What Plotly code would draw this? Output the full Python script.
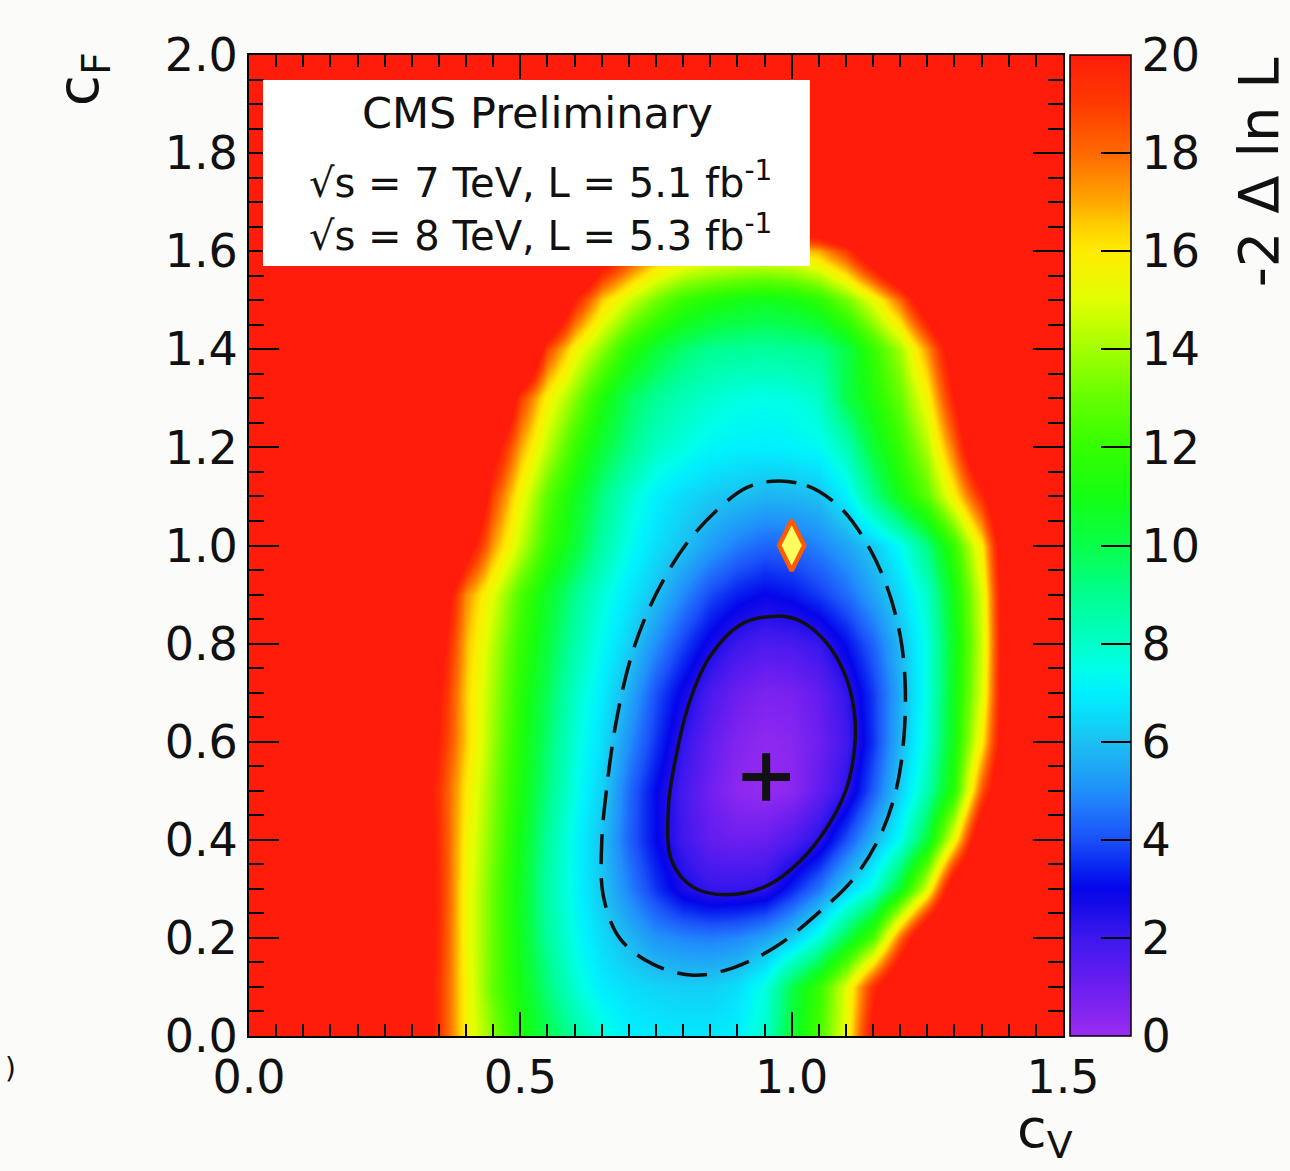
import plotly.graph_objects as go

# ---------------- data ----------------
# grid of cV (x) and cF (y) points at which -2 Delta lnL was read off the picture
cv_grid = [0.00, 0.05, 0.10, 0.15, 0.20, 0.25, 0.30, 0.35, 0.40, 0.45, 0.50,
           0.55, 0.60, 0.65, 0.70, 0.75, 0.80, 0.85, 0.90, 0.95, 1.00,
           1.05, 1.10, 1.15, 1.20, 1.25, 1.30, 1.35, 1.40, 1.45, 1.50]
cf_grid = [0.0, 0.1, 0.2, 0.3, 0.4, 0.5, 0.6, 0.7, 0.8, 0.9, 1.0,
           1.1, 1.2, 1.3, 1.4, 1.5, 1.6, 1.7, 1.8, 1.9, 2.0]

# -2 Delta lnL, one row per cF value (values above 20 are shown saturated red)
nll_cf_00 = [40, 37, 34, 31, 28, 25, 22.5, 19.2, 15.7, 13.5, 11.4, 10.0, 8.75, 7.7, 7.0, 6.9, 6.8, 6.8, 7.0, 8.0, 10.4, 12.4, 15.3, 20.7, 23, 25.5, 28, 30, 32, 34, 36]
nll_cf_01 = [40, 37, 34, 31, 28, 25, 22.5, 19.2, 15.6, 12.9, 11.0, 9.3, 7.8, 6.9, 6.6, 6.4, 6.3, 6.3, 6.6, 7.6, 10.0, 12.0, 15.0, 19.4, 23, 25.5, 28, 30, 32, 34, 36]
nll_cf_02 = [40, 37, 34, 31, 28, 25, 22.5, 19.4, 15.5, 13.0, 10.8, 8.8, 7.4, 6.5, 5.8, 5.1, 4.85, 4.75, 4.9, 5.4, 6.2, 7.7, 10.0, 12.5, 18.0, 23, 25.5, 28, 30, 32, 34]
nll_cf_03 = [40, 37, 34, 31, 28, 25, 22.5, 19.5, 15.5, 13.0, 10.7, 8.6, 7.2, 6.1, 4.8, 3.6, 2.6, 2.15, 2.15, 2.3, 3.4, 4.6, 6.3, 7.7, 10.6, 15.0, 22, 25, 27.5, 30, 32]
nll_cf_04 = [40, 37, 34, 31, 28, 25, 22.5, 19.4, 15.7, 13.3, 10.9, 8.8, 7.2, 6.0, 4.3, 3.0, 1.95, 1.2, 1.0, 1.1, 1.6, 2.4, 4.0, 5.7, 7.4, 10.3, 15.5, 22.5, 25, 27.5, 30]
nll_cf_05 = [40, 37, 34, 31, 28, 25, 22.5, 19.2, 16.0, 13.5, 11.2, 9.2, 7.5, 6.3, 4.4, 3.0, 1.8, 0.9, 0.3, 0.1, 0.35, 1.2, 2.3, 4.2, 6.3, 8.4, 11.7, 18.5, 23.5, 26, 28.5]
nll_cf_06 = [40, 37, 34, 31, 28, 25, 22.5, 19.8, 16.5, 13.8, 11.4, 9.5, 7.7, 6.6, 5.0, 3.6, 2.2, 1.2, 0.55, 0.25, 0.4, 1.0, 1.9, 3.6, 5.8, 7.8, 11.0, 16.0, 22.5, 25.5, 28]
nll_cf_07 = [40, 37, 34, 31, 28, 25, 22.5, 20.2, 16.5, 14.0, 11.6, 9.8, 8.0, 6.9, 5.6, 4.0, 2.8, 1.7, 1.0, 0.65, 0.75, 1.2, 2.2, 3.7, 5.6, 7.6, 10.8, 15.0, 22.5, 25, 27.5]
nll_cf_08 = [40, 37, 34, 31, 28, 25, 22.5, 21.0, 16.8, 14.3, 12.0, 10.2, 8.5, 7.3, 6.3, 5.0, 3.8, 2.75, 2.0, 1.65, 1.75, 2.1, 3.1, 4.3, 5.9, 7.6, 10.7, 14.7, 22.5, 25, 27.5]
nll_cf_09 = [42, 39.5, 37, 34.5, 32, 29.5, 26.5, 22.0, 17.4, 15.0, 12.5, 10.6, 9.0, 7.7, 6.8, 6.0, 4.9, 3.9, 3.3, 2.95, 3.2, 3.7, 4.4, 5.4, 6.5, 8.0, 11.0, 15.0, 22.5, 25, 27.5]
nll_cf_10 = [44, 42, 39.5, 37, 34.5, 32, 29, 26, 21.2, 17.2, 14.5, 12.0, 10.3, 8.6, 7.4, 6.6, 6.05, 5.3, 4.7, 4.3, 4.4, 4.8, 5.4, 6.2, 7.3, 9.2, 12.0, 16.0, 23, 26, 28.5]
nll_cf_11 = [46, 44, 41.5, 39, 36.5, 34, 31, 28, 24.5, 18.8, 15.5, 12.8, 10.8, 9.2, 7.9, 7.0, 6.5, 6.2, 6.0, 5.75, 5.8, 6.0, 7.0, 9.0, 11.0, 12.8, 15.8, 19.6, 24, 27, 29.5]
nll_cf_12 = [48, 46, 44, 41.5, 39, 36.5, 34, 31, 27.5, 21.0, 17.1, 14.4, 12.0, 10.3, 9.1, 8.1, 7.6, 7.2, 7.05, 7.0, 7.1, 7.3, 8.3, 10.4, 12.0, 14.2, 18.0, 23.5, 26.5, 29, 31.5]
nll_cf_13 = [50, 48, 46, 44, 41.5, 39, 36, 32.5, 29, 25.5, 19.0, 15.7, 13.5, 11.3, 9.7, 8.9, 8.3, 7.9, 7.6, 7.5, 7.6, 8.0, 10.0, 11.4, 13.0, 15.6, 20.0, 25, 28, 31, 33.5]
nll_cf_14 = [52, 50, 48, 46, 44, 41.5, 39, 36, 33, 29.5, 26, 18.8, 15.6, 13.6, 11.6, 10.3, 9.5, 9.0, 8.9, 8.8, 8.9, 9.0, 10.0, 12.0, 14.0, 17.3, 21.5, 26, 29.5, 32, 35]
nll_cf_15 = [54, 52, 50, 48, 46, 44, 41.5, 39, 36, 33, 29.5, 25.5, 19.8, 16.5, 14.7, 13.2, 12.0, 11.4, 11.0, 10.8, 11.0, 11.7, 13.2, 15.2, 18.0, 22, 26, 29.5, 32.5, 35, 37.5]
nll_cf_16 = [56, 54, 52, 50, 48, 46, 44, 42, 39.5, 37, 34, 30.5, 26.5, 22.0, 19.5, 17.5, 16.6, 16.2, 16.0, 15.9, 16.2, 17.0, 19.0, 22.5, 26, 29.5, 33, 36, 38.5, 41, 43.5]
nll_cf_17 = [58, 56, 54, 52, 50, 48, 46, 44, 42, 40, 38, 36, 34, 32, 30, 28.5, 27.5, 27, 26.8, 26.7, 27, 28, 30, 32.5, 35, 37.5, 40, 42.5, 45, 47.5, 50]
nll_cf_18 = [65, 63, 61, 59, 57, 55, 53, 51, 49, 47, 45, 43, 41, 39, 37, 35.5, 34.5, 34, 33.8, 33.7, 34, 35, 37, 39.5, 42, 44.5, 47, 49.5, 52, 54.5, 57]
nll_cf_19 = [72, 70, 68, 66, 64, 62, 60, 58, 56, 54, 52, 50, 48, 46, 44, 42.5, 41.5, 41, 40.8, 40.7, 41, 42, 44, 46.5, 49, 51.5, 54, 56.5, 59, 61.5, 64]
nll_cf_20 = [79, 77, 75, 73, 71, 69, 67, 65, 63, 61, 59, 57, 55, 53, 51, 49.5, 48.5, 48, 47.8, 47.7, 48, 49, 51, 53.5, 56, 58.5, 61, 63.5, 66, 68.5, 71]

# 68% CL contour (solid)
cl68_cv = [0.972, 1.016, 1.064, 1.101, 1.117, 1.113, 1.098, 1.064, 1.016, 0.954, 0.880,
           0.819, 0.779, 0.773, 0.788, 0.813, 0.849, 0.905, 0.972]
cl68_cf = [0.856, 0.846, 0.802, 0.729, 0.642, 0.561, 0.495, 0.423, 0.357, 0.306, 0.288,
           0.303, 0.357, 0.467, 0.576, 0.685, 0.773, 0.838, 0.856]
# 95% CL contour (dashed)
cl95_cv = [0.966, 1.028, 1.089, 1.138, 1.175, 1.200, 1.209, 1.207, 1.193, 1.163, 1.114,
           1.046, 0.972, 0.892, 0.819, 0.745, 0.684, 0.653, 0.650, 0.659, 0.678,
           0.708, 0.751, 0.807, 0.868, 0.917, 0.966]
cl95_cf = [1.131, 1.122, 1.078, 1.005, 0.918, 0.816, 0.722, 0.612, 0.504, 0.408, 0.321,
           0.248, 0.183, 0.139, 0.124, 0.146, 0.198, 0.285, 0.394, 0.504, 0.649,
           0.787, 0.903, 1.005, 1.078, 1.118, 1.131]

best_fit_cv = [0.953]
best_fit_cf = [0.528]
sm_cv = [1.0]
sm_cf = [1.0]

x_tick_vals = [0.0, 0.5, 1.0, 1.5]
x_tick_text = ["0.0", "0.5", "1.0", "1.5"]
y_tick_vals = [0.0, 0.2, 0.4, 0.6, 0.8, 1.0, 1.2, 1.4, 1.6, 1.8, 2.0]
y_tick_text = ["0.0", "0.2", "0.4", "0.6", "0.8", "1.0", "1.2", "1.4", "1.6", "1.8", "2.0"]
z_tick_vals = [0, 2, 4, 6, 8, 10, 12, 14, 16, 18, 20]
z_tick_text = ["0", "2", "4", "6", "8", "10", "12", "14", "16", "18", "20"]

info_lines = ["CMS Preliminary",
              "√s = 7 TeV, L = 5.1 fb<sup>-1</sup>",
              "√s = 8 TeV, L = 5.3 fb<sup>-1</sup>"]

z_rows = [nll_cf_00, nll_cf_01, nll_cf_02, nll_cf_03, nll_cf_04, nll_cf_05, nll_cf_06,
          nll_cf_07, nll_cf_08, nll_cf_09, nll_cf_10, nll_cf_11, nll_cf_12, nll_cf_13,
          nll_cf_14, nll_cf_15, nll_cf_16, nll_cf_17, nll_cf_18, nll_cf_19, nll_cf_20]

# ---------------- style ----------------
FONT = "DejaVu Sans"
palette = [
    [0.000, "#9a2cf0"], [0.050, "#6c1ef0"], [0.100, "#3c18ee"], [0.130, "#1a0ce8"],
    [0.150, "#0505ea"], [0.175, "#0a2af2"], [0.200, "#1a50f8"], [0.225, "#1f6ffb"],
    [0.250, "#2090fb"], [0.275, "#1ea8f5"], [0.300, "#1cc0f2"], [0.325, "#0cdaf8"],
    [0.350, "#00f0ff"], [0.375, "#00ffe8"], [0.400, "#00ffc8"], [0.450, "#00ff90"],
    [0.500, "#08ff48"], [0.550, "#14ff14"], [0.600, "#34ff00"], [0.650, "#64ff00"],
    [0.700, "#a4ff00"], [0.750, "#e2ff00"], [0.800, "#ffec00"], [0.825, "#ffd000"],
    [0.850, "#ffa800"], [0.875, "#ff8800"], [0.900, "#ff6800"], [0.950, "#ff3a00"],
    [1.000, "#ff1c0a"],
]

fig = go.Figure()
fig.add_trace(go.Heatmap(
    x=cv_grid, y=cf_grid, z=z_rows, zmin=0, zmax=20, zsmooth="best",
    colorscale=palette, hoverinfo="skip",
    colorbar=dict(
        x=1.0086, xanchor="left", xpad=0, ypad=0, y=0.5, yanchor="middle",
        len=1, lenmode="fraction", thickness=61, thicknessmode="pixels",
        outlinecolor="black", outlinewidth=1.5,
        ticks="inside", ticklen=30, tickwidth=2, tickcolor="black",
        tickvals=z_tick_vals, ticktext=z_tick_text,
        tickfont=dict(family=FONT, size=46, color="#111111"),
    ),
))
fig.add_trace(go.Scatter(
    x=cl95_cv, y=cl95_cf, mode="lines", hoverinfo="skip", showlegend=False,
    line=dict(color="#111111", width=3.5, dash="30px,14px", shape="spline", smoothing=1.0),
))
fig.add_trace(go.Scatter(
    x=cl68_cv, y=cl68_cf, mode="lines", hoverinfo="skip", showlegend=False,
    line=dict(color="#111111", width=3.5, shape="spline", smoothing=1.0),
))
fig.add_trace(go.Scatter(
    x=best_fit_cv, y=best_fit_cf, mode="markers", showlegend=False,
    marker=dict(symbol="cross-thin", size=34, line=dict(color="#111111", width=8)),
))
fig.add_trace(go.Scatter(
    x=sm_cv, y=sm_cf, mode="markers", showlegend=False,
    marker=dict(symbol="diamond-tall", size=36, color="#ffff60",
                line=dict(color="#ff5a00", width=4.5)),
))

axis_common = dict(
    ticks="inside", tickwidth=2, tickcolor="black",
    showline=True, linecolor="black", linewidth=2, mirror="allticks",
    showgrid=False, zeroline=False,
    tickfont=dict(family=FONT, size=46, color="#111111"),
)
fig.update_xaxes(range=[0, 1.5], tickvals=x_tick_vals, ticktext=x_tick_text, ticklen=24,
                 minor=dict(tick0=0, dtick=0.05, ticks="inside", ticklen=12,
                            tickwidth=1.5, tickcolor="black", showgrid=False),
                 **axis_common)
fig.update_yaxes(range=[0, 2.0], tickvals=y_tick_vals, ticktext=y_tick_text, ticklen=30,
                 minor=dict(tick0=0, dtick=0.05, ticks="inside", ticklen=15,
                            tickwidth=1.5, tickcolor="black", showgrid=False),
                 **axis_common)

fig.add_shape(type="rect", xref="paper", yref="paper", x0=0.0172, x1=0.689,
              y0=0.785, y1=0.9745, fillcolor="white", line=dict(width=0), layer="above")

text_y = [0.941, 0.8726, 0.8186]
text_x = [0.354, 0.3587, 0.3587]
text_size = [43, 40, 40]
for t, xx, yy, sz in zip(info_lines, text_x, text_y, text_size):
    fig.add_annotation(text=t, xref="paper", yref="paper", x=xx, y=yy,
                       xanchor="center", yanchor="middle", showarrow=False,
                       font=dict(family=FONT, size=sz, color="#111111"))

fig.add_annotation(text="c<sub>F</sub>", xref="paper", yref="paper", x=-0.205, y=1.005,
                   xanchor="center", yanchor="top", textangle=-90, showarrow=False,
                   font=dict(family=FONT, size=57, color="#111111"))
fig.add_annotation(text="c<sub>V</sub>", xref="paper", yref="paper", x=1.0147, y=-0.06,
                   xanchor="right", yanchor="top", showarrow=False,
                   font=dict(family=FONT, size=54, color="#111111"))
fig.add_annotation(text="-2 Δ ln L", xref="paper", yref="paper", x=1.240, y=1.0,
                   xanchor="center", yanchor="top", textangle=-90, showarrow=False,
                   font=dict(family=FONT, size=56, color="#111111"))
fig.add_annotation(text=")", xref="paper", yref="paper", x=-0.2936, y=-0.033,
                   xanchor="center", yanchor="middle", showarrow=False,
                   font=dict(family=FONT, size=28, color="#111111"))

fig.update_layout(
    width=1290, height=1171,
    margin=dict(l=249, r=227, t=55, b=135),
    paper_bgcolor="#fbfbf9", plot_bgcolor="#fbfbf9",
    showlegend=False,
)

fig.write_html("out.html", config={"displayModeBar": False},
               post_script="document.body.style.margin='0';document.body.style.overflow='hidden';")
